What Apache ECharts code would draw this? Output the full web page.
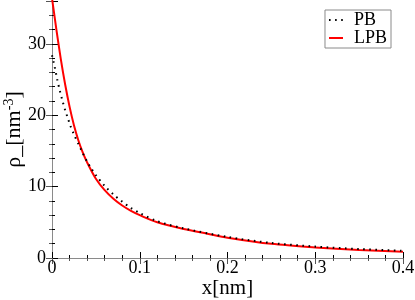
<!DOCTYPE html>
<html>
<head>
<meta charset="utf-8">
<script src="https://cdn.jsdelivr.net/npm/echarts@6/dist/echarts.min.js"></script>
<style>html,body{margin:0;padding:0;background:#fff}#c{width:415px;height:300px}</style>
</head>
<body>
<div id="c"></div>
<script>
const xLPB = [0, 0.005, 0.01, 0.015, 0.02, 0.025, 0.03, 0.035, 0.04, 0.05, 0.06, 0.07, 0.08, 0.09, 0.1, 0.12, 0.15, 0.177, 0.2, 0.25, 0.3, 0.35, 0.4];
const yLPB = [36.4, 32.0, 27.9, 24.3, 21.2, 18.6, 16.5, 14.8, 13.4, 11.1, 9.5, 8.3, 7.35, 6.6, 6.0, 5.0, 4.05, 3.4, 2.85, 1.98, 1.48, 1.12, 0.88];
const xPB = [0, 0.003, 0.006, 0.009, 0.012, 0.015, 0.018, 0.021, 0.025, 0.03, 0.035, 0.04, 0.045, 0.05, 0.06, 0.07, 0.08, 0.09, 0.1, 0.12, 0.15, 0.2, 0.25, 0.3, 0.35, 0.4];
const yPB = [28.4, 26.8, 25.0, 23.4, 22.0, 20.7, 19.6, 18.5, 17.3, 16.0, 14.7, 13.5, 12.5, 11.6, 10.1, 8.9, 7.9, 7.0, 6.3, 5.15, 4.15, 2.95, 2.1, 1.6, 1.25, 1.0];
const xTicks = [0, 0.1, 0.2, 0.3, 0.4];
const yTicks = [0, 10, 20, 30];

const FONT = 'Liberation Serif';
const chart = echarts.init(document.getElementById('c'), null, {renderer: 'canvas'});
const zip = (a, b) => a.map((v, i) => [v, b[i]]);
const gray = '#8a8a8a';
chart.setOption({
  animation: false,
  grid: {left: 52, right: 12, top: 1, bottom: 42, containLabel: false, outerBoundsMode: 'none'},
  legend: {
    orient: 'vertical', right: 24, top: 10,
    itemWidth: 14, itemHeight: 10, itemGap: 0,
    padding: [1, 4, 1, 3],
    borderColor: gray, borderWidth: 1,
    itemStyle: {opacity: 0},
    textStyle: {fontFamily: FONT, fontSize: 18, color: '#000', lineHeight: 18, padding: [0, 0, 0, 6]},
    data: ['PB', 'LPB']
  },
  xAxis: [{
    type: 'value', min: 0, max: 0.4, interval: 0.1,
    name: 'x[nm]', nameLocation: 'middle', nameGap: 20, nameMoveOverlap: false,
    nameTextStyle: {fontFamily: FONT, fontSize: 21, color: '#000', verticalAlign: 'top'},
    axisLine: {lineStyle: {color: '#000', width: 1}},
    axisTick: {inside: true, length: 6, lineStyle: {color: '#000'}},
    minorTick: {show: true, splitNumber: 5, length: 3, lineStyle: {color: '#000'}},
    splitLine: {show: false},
    axisLabel: {fontFamily: FONT, fontSize: 18, color: '#000', margin: 1,
      formatter: v => xTicks.includes(+v.toFixed(2)) ? String(+v.toFixed(1)) : ''}
  }, {
    type: 'value', min: 0, max: 0.4, interval: 0.1, position: 'top',
    axisLine: {show: true, lineStyle: {color: gray, width: 1}},
    axisTick: {inside: true, length: 6, lineStyle: {color: '#555'}},
    minorTick: {show: true, splitNumber: 5, length: 3, lineStyle: {color: '#555'}},
    splitLine: {show: false}, axisLabel: {show: false}
  }],
  yAxis: [{
    type: 'value', min: 0, max: 36, interval: 10,
    name: '{a|ρ_[nm}{b|-3}{a|]}', nameLocation: 'middle', nameGap: 26, nameRotate: 90, nameMoveOverlap: false,
    nameTextStyle: {fontFamily: FONT, color: '#000',
      rich: {a: {fontFamily: FONT, fontSize: 22, color: '#000', lineHeight: 24},
             b: {fontFamily: FONT, fontSize: 14, color: '#000', verticalAlign: 'top', lineHeight: 24, padding: [0, 0, 8, 0]}}},
    axisLine: {lineStyle: {color: '#000', width: 1}},
    axisTick: {inside: true, length: 6, lineStyle: {color: '#000'}},
    minorTick: {show: true, splitNumber: 5, length: 3, lineStyle: {color: '#000'}},
    splitLine: {show: false},
    axisLabel: {fontFamily: FONT, fontSize: 18, color: '#000', margin: 6, showMaxLabel: false,
      formatter: v => yTicks.includes(v) ? String(v) : ''}
  }, {
    type: 'value', min: 0, max: 36, interval: 10, position: 'right',
    axisLine: {show: true, lineStyle: {color: gray, width: 1}},
    axisTick: {inside: true, length: 6, lineStyle: {color: '#555'}},
    minorTick: {show: true, splitNumber: 5, length: 3, lineStyle: {color: '#555'}},
    splitLine: {show: false}, axisLabel: {show: false}
  }],
  series: [{
    name: 'PB', type: 'line', data: zip(xPB, yPB), smooth: 0.3, symbol: 'none',
    lineStyle: {color: '#000', width: 2, type: [1.6, 4.5], cap: 'butt'},
    itemStyle: {color: '#000'}, z: 3
  }, {
    name: 'LPB', type: 'line', data: zip(xLPB, yLPB), smooth: 0.3, symbol: 'none',
    lineStyle: {color: '#ff0000', width: 2},
    itemStyle: {color: '#ff0000'}, z: 2
  }]
});
</script>
</body>
</html>
